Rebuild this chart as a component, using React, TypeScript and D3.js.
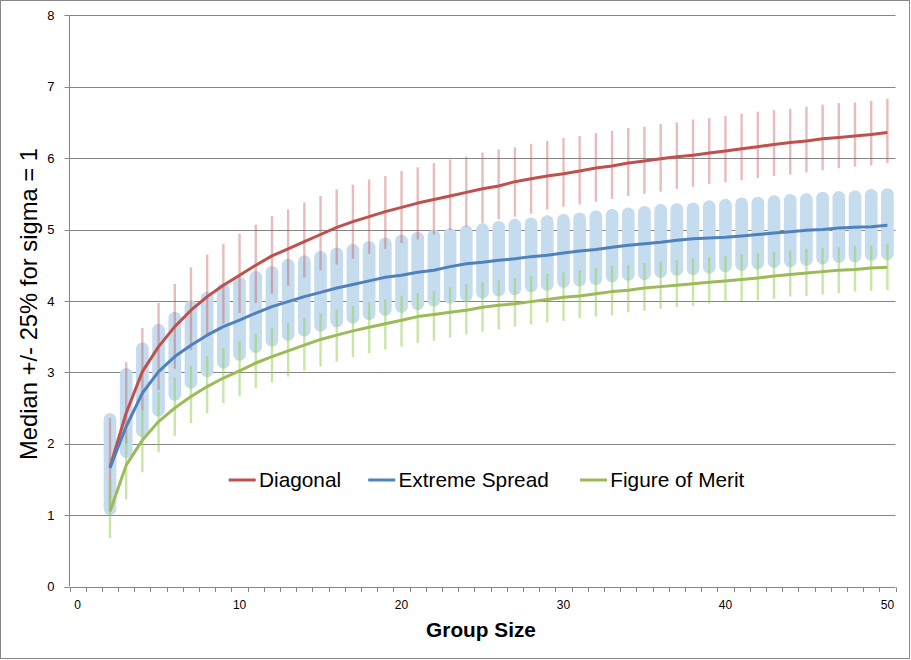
import React from "react";
import * as d3 from "d3";

const groupSizes = [2,3,4,5,6,7,8,9,10,11,12,13,14,15,16,17,18,19,20,21,22,23,24,25,26,27,28,29,30,31,32,33,34,35,36,37,38,39,40,41,42,43,44,45,46,47,48,49,50];

const diagMedian = [1.67,2.43,3.01,3.36,3.64,3.87,4.06,4.22,4.36,4.50,4.63,4.73,4.83,4.93,5.03,5.11,5.18,5.25,5.31,5.37,5.42,5.47,5.52,5.57,5.61,5.67,5.71,5.75,5.78,5.82,5.86,5.89,5.93,5.96,5.99,6.02,6.04,6.07,6.10,6.13,6.16,6.19,6.22,6.24,6.27,6.29,6.31,6.33,6.36];
const diagLow = [1.08,2.00,2.47,2.75,3.05,3.31,3.50,3.68,3.83,3.97,4.10,4.21,4.33,4.43,4.51,4.59,4.66,4.73,4.81,4.86,4.93,4.99,5.04,5.09,5.14,5.18,5.22,5.28,5.32,5.35,5.39,5.43,5.47,5.50,5.53,5.57,5.60,5.64,5.66,5.69,5.72,5.75,5.77,5.80,5.83,5.86,5.88,5.90,5.93];
const diagHigh = [2.36,3.14,3.62,3.97,4.24,4.47,4.65,4.80,4.94,5.07,5.19,5.28,5.38,5.47,5.56,5.63,5.70,5.75,5.82,5.87,5.93,5.98,6.02,6.08,6.12,6.15,6.20,6.24,6.28,6.31,6.35,6.38,6.42,6.44,6.48,6.50,6.54,6.56,6.59,6.62,6.65,6.67,6.69,6.72,6.75,6.77,6.78,6.80,6.83];

const esMedian = [1.66,2.24,2.71,3.01,3.22,3.38,3.52,3.64,3.73,3.83,3.92,3.99,4.06,4.12,4.18,4.23,4.28,4.33,4.36,4.40,4.43,4.48,4.52,4.54,4.57,4.59,4.62,4.64,4.67,4.70,4.72,4.75,4.78,4.80,4.82,4.85,4.87,4.88,4.89,4.91,4.93,4.95,4.97,4.99,5.00,5.02,5.03,5.04,5.06];
const esLow = [1.09,1.89,2.18,2.47,2.69,2.86,3.02,3.14,3.25,3.36,3.45,3.53,3.59,3.66,3.72,3.77,3.82,3.88,3.92,3.96,4.01,4.05,4.08,4.12,4.15,4.17,4.21,4.23,4.27,4.29,4.31,4.35,4.37,4.38,4.41,4.44,4.45,4.47,4.49,4.51,4.53,4.55,4.56,4.58,4.60,4.62,4.63,4.65,4.66];
const esHigh = [2.34,2.97,3.33,3.59,3.76,3.92,4.04,4.16,4.25,4.33,4.40,4.50,4.55,4.61,4.66,4.71,4.75,4.80,4.84,4.88,4.91,4.93,4.97,5.00,5.03,5.06,5.08,5.11,5.13,5.15,5.18,5.20,5.22,5.24,5.27,5.28,5.29,5.32,5.34,5.36,5.37,5.39,5.41,5.42,5.44,5.45,5.46,5.48,5.49];

const fomMedian = [1.05,1.70,2.05,2.31,2.50,2.66,2.80,2.92,3.02,3.13,3.22,3.30,3.38,3.46,3.52,3.58,3.63,3.68,3.73,3.78,3.81,3.84,3.87,3.91,3.94,3.96,3.99,4.02,4.05,4.07,4.10,4.13,4.15,4.18,4.20,4.22,4.24,4.26,4.28,4.30,4.32,4.35,4.37,4.39,4.41,4.43,4.44,4.46,4.47];
const fomLow = [0.68,1.22,1.60,1.88,2.11,2.29,2.43,2.57,2.67,2.78,2.86,2.94,3.02,3.08,3.15,3.21,3.27,3.32,3.36,3.41,3.44,3.49,3.53,3.57,3.60,3.64,3.67,3.70,3.72,3.76,3.78,3.80,3.84,3.86,3.89,3.91,3.93,3.96,3.98,4.00,4.01,4.03,4.06,4.07,4.09,4.11,4.13,4.14,4.15];
const fomHigh = [1.49,2.10,2.47,2.72,2.93,3.09,3.23,3.34,3.44,3.54,3.62,3.69,3.76,3.83,3.88,3.93,3.98,4.02,4.07,4.11,4.14,4.19,4.23,4.26,4.29,4.32,4.35,4.38,4.40,4.43,4.46,4.49,4.50,4.53,4.55,4.57,4.59,4.61,4.63,4.65,4.67,4.69,4.71,4.73,4.74,4.75,4.77,4.78,4.80];

const categories = d3.range(0, 51);
const xTickLabels = [0, 10, 20, 30, 40, 50];
const yTicks = [0, 1, 2, 3, 4, 5, 6, 7, 8];
const seriesNames = ["Diagonal", "Extreme Spread", "Figure of Merit"];
const yTitle = "Median +/- 25% for sigma = 1";
const xTitle = "Group Size";

const FONT = "'Liberation Sans', Arial, sans-serif";
const W = 911;
const H = 660;
const plotLeft = 69.5;
const plotRight = 895.5;
const plotTop = 15.3;
const plotBottom = 586.5;

export default function App() {
  const x = d3.scaleBand<number>().domain(categories).range([plotLeft, plotRight]).padding(0);
  const cx = (n: number) => (x(n) as number) + x.bandwidth() / 2;
  const y = d3.scaleLinear().domain([0, 8]).range([plotBottom, plotTop]);
  const line = d3
    .line<number>()
    .x((_, i) => cx(groupSizes[i]))
    .y((d) => y(d));

  const colors = ["#C0504D", "#4F81BD", "#9BBB59"];
  const medians = [diagMedian, esMedian, fomMedian];

  const tickEdges = d3.range(0, 52).map((i) => plotLeft + i * x.bandwidth());
  const legendX = [228.7, 368.2, 580];

  return (
    <div style={{ position: "absolute", left: 0, top: 0 }}>
      <svg width={W} height={H} style={{ display: "block" }}>
        <rect x={0} y={0} width={W} height={H} fill="#fff" />
        <rect x={0.5} y={0.5} width={909} height={658} fill="none" stroke="#888" strokeWidth={1} />
        {/* gridlines */}
        {yTicks.map((t) => (
          <line
            key={"g" + t}
            x1={plotLeft}
            x2={plotRight}
            y1={Math.round(y(t)) + 0.5}
            y2={Math.round(y(t)) + 0.5}
            stroke="#868686"
            strokeWidth={1}
          />
        ))}
        {/* y axis */}
        <line x1={plotLeft} x2={plotLeft} y1={plotTop} y2={plotBottom} stroke="#868686" />
        {yTicks.map((t) => (
          <g key={"yt" + t}>
            <line x1={plotLeft - 5} x2={plotLeft} y1={Math.round(y(t)) + 0.5} y2={Math.round(y(t)) + 0.5} stroke="#868686" />
            <text x={54.5} y={y(t) + 4.7} textAnchor="end" fontFamily={FONT} fontSize={13} fill="#000">
              {t}
            </text>
          </g>
        ))}
        {/* x ticks */}
        {tickEdges.map((e, i) => (
          <line key={"xt" + i} x1={Math.round(e) + 0.5} x2={Math.round(e) + 0.5} y1={Math.round(plotBottom) + 0.5} y2={Math.round(plotBottom) + 5} stroke="#868686" />
        ))}
        {xTickLabels.map((t) => (
          <text key={"xl" + t} x={cx(t)} y={609} textAnchor="middle" fontFamily={FONT} fontSize={12} fill="#000">
            {t}
          </text>
        ))}
        {/* extreme spread bars (wide, rounded) */}
        {groupSizes.map((n, i) => (
          <line
            key={"esb" + n}
            x1={cx(n)}
            x2={cx(n)}
            y1={y(esLow[i])}
            y2={y(esHigh[i])}
            stroke="#C5DCEF"
            strokeWidth={12.7}
            strokeLinecap="round"
          />
        ))}
        {/* diagonal bars */}
        {groupSizes.map((n, i) => (
          <line
            key={"db" + n}
            x1={cx(n)}
            x2={cx(n)}
            y1={y(diagLow[i])}
            y2={y(diagHigh[i])}
            stroke="#C0504D"
            strokeOpacity={0.38}
            strokeWidth={2.4}
          />
        ))}
        {/* figure of merit bars */}
        {groupSizes.map((n, i) => (
          <line
            key={"fb" + n}
            x1={cx(n)}
            x2={cx(n)}
            y1={y(fomLow[i])}
            y2={y(fomHigh[i])}
            stroke="#92D050"
            strokeOpacity={0.5}
            strokeWidth={2.4}
          />
        ))}
        {/* median lines */}
        {medians.map((m, k) => (
          <path key={"l" + k} d={line(m) as string} fill="none" stroke={colors[k]} strokeWidth={3} strokeLinejoin="round" />
        ))}
        {/* legend */}
        {seriesNames.map((s, k) => (
          <g key={"lg" + k}>
            <line x1={legendX[k]} x2={legendX[k] + 27} y1={480} y2={480} stroke={colors[k]} strokeWidth={3} />
            <text x={legendX[k] + 30.3} y={487} fontFamily={FONT} fontSize={20.8} fill="#000">
              {s}
            </text>
          </g>
        ))}
        {/* axis titles */}
        <text
          transform={`translate(36.5, 304) rotate(-90)`}
          textAnchor="middle"
          fontFamily={FONT}
          fontSize={23.8}
          fill="#000"
        >
          {yTitle}
        </text>
        <text x={481} y={637} textAnchor="middle" fontFamily={FONT} fontSize={20.8} fontWeight="bold" fill="#000">
          {xTitle}
        </text>
      </svg>
    </div>
  );
}
